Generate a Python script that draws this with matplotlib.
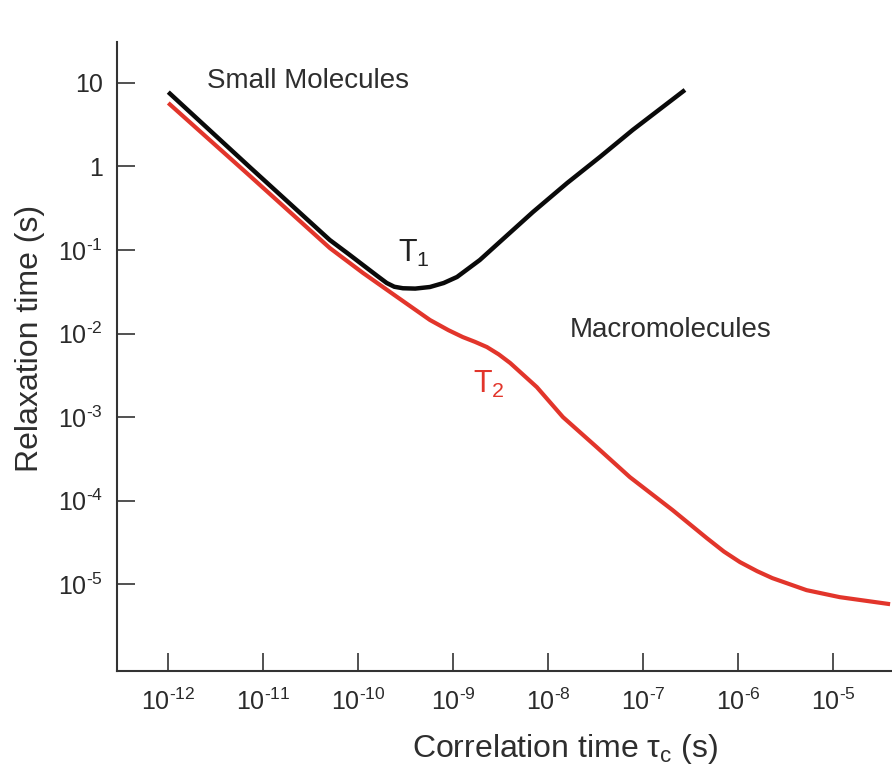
import numpy as np
import matplotlib
matplotlib.use("Agg")
import matplotlib.pyplot as plt
from matplotlib.ticker import FixedLocator, NullLocator, FixedFormatter

plt.rcParams['font.family'] = ['Liberation Sans', 'DejaVu Sans']
plt.rcParams['mathtext.fontset'] = 'custom'
plt.rcParams['mathtext.rm'] = 'Liberation Sans'
plt.rcParams['mathtext.it'] = 'Liberation Sans:italic'
plt.rcParams['mathtext.bf'] = 'Liberation Sans:bold'

# ---- data (log10 values) ----
t1_log_tau = [-12.00, -11.14, -10.30, -10.10, -9.95, -9.80, -9.70, -9.62, -9.53,
              -9.40, -9.245, -9.10, -8.96, -8.72, -8.51, -8.16, -7.80, -7.455,
              -7.11, -6.56]
t1_log_T = [0.89, -0.01, -0.88, -1.05, -1.18, -1.31, -1.395, -1.44, -1.458,
            -1.462, -1.443, -1.395, -1.323, -1.12, -0.904, -0.545, -0.198, 0.114,
            0.437, 0.916]

t2_log_tau = [-12.00, -11.14, -10.30, -9.95, -9.59, -9.245, -9.05, -8.90, -8.77,
              -8.645, -8.52, -8.40, -8.12, -7.845, -7.49, -7.14, -6.69, -6.33,
              -6.15, -5.98, -5.80, -5.64, -5.28, -4.93, -4.40]
t2_log_T = [0.76, -0.114, -0.976, -1.275, -1.563, -1.838, -1.96, -2.042, -2.10,
            -2.162, -2.25, -2.353, -2.641, -3.00, -3.359, -3.719, -4.114, -4.449,
            -4.61, -4.737, -4.845, -4.928, -5.072, -5.156, -5.24]

x_tick_exps = [-12, -11, -10, -9, -8, -7, -6, -5]
y_tick_exps = [1, 0, -1, -2, -3, -4, -5]

HY = '\u2010'


def pow_label(e):
    if e == 1:
        return '10'
    if e == 0:
        return '1'
    s = str(e).replace('-', HY)
    return r'$\mathregular{10^{' + s + r'}}$'


x_tick_labels = [pow_label(e) for e in x_tick_exps]
y_tick_labels = [pow_label(e) for e in y_tick_exps]

t1_tau = 10.0 ** np.array(t1_log_tau)
t1_T = 10.0 ** np.array(t1_log_T)
t2_tau = 10.0 ** np.array(t2_log_tau)
t2_T = 10.0 ** np.array(t2_log_T)

fig = plt.figure(figsize=(8.92, 7.71), dpi=100)
ax = fig.add_axes([117/892, 100/771, 775/892, 629/771])

red = '#E2352B'
ax.plot(t2_tau, t2_T, color=red, lw=3.0, solid_capstyle='butt', solid_joinstyle='round')
ax.plot(t1_tau, t1_T, color='#0a0a0a', lw=3.2, solid_capstyle='butt', solid_joinstyle='round')

ax.set_xscale('log')
ax.set_yscale('log')
ax.set_xlim(10**-12.54, 10**-4.38)
ax.set_ylim(10**-6.04, 10**1.49)

ax.xaxis.set_major_locator(FixedLocator([10.0**e for e in x_tick_exps]))
ax.xaxis.set_major_formatter(FixedFormatter(x_tick_labels))
ax.yaxis.set_major_locator(FixedLocator([10.0**e for e in y_tick_exps]))
ax.yaxis.set_major_formatter(FixedFormatter(y_tick_labels))
ax.xaxis.set_minor_locator(NullLocator())
ax.yaxis.set_minor_locator(NullLocator())

spine_col = '#333333'
for s in ['top', 'right']:
    ax.spines[s].set_visible(False)
for s in ['left', 'bottom']:
    ax.spines[s].set_linewidth(1.5)
    ax.spines[s].set_color(spine_col)

ax.tick_params(axis='both', direction='in', length=13, width=1.2, color=spine_col,
               labelsize=18, labelcolor='#2a2a2a')
ax.tick_params(axis='x', pad=13)
ax.tick_params(axis='y', pad=10)

txt_col = '#2e2e2e'
ax.text(10**-11.59, 10**0.94, 'Small Molecules', fontsize=20, color=txt_col,
        ha='left', va='baseline')
ax.text(10**-7.77, 10**-2.042, 'Macromolecules', fontsize=20, color=txt_col,
        ha='left', va='baseline')
ax.text(10**-9.58, 10**-1.144, r'$\mathregular{T_1}$', fontsize=22, color='#222222',
        ha='left', va='baseline')
ax.text(10**-8.79, 10**-2.713, r'$\mathregular{T_2}$', fontsize=22, color=red,
        ha='left', va='baseline')

fig.text(565/892, 1 - 757/771, r'Correlation time $\mathregular{\tau_c}$ (s)',
         fontsize=23, color=txt_col, ha='center', va='baseline')
fig.text(30/892, 1 - 338/771, 'Relaxation time (s)', fontsize=23, color=txt_col,
         ha='center', va='center', rotation=90)

fig.savefig('out.png', dpi=100)
